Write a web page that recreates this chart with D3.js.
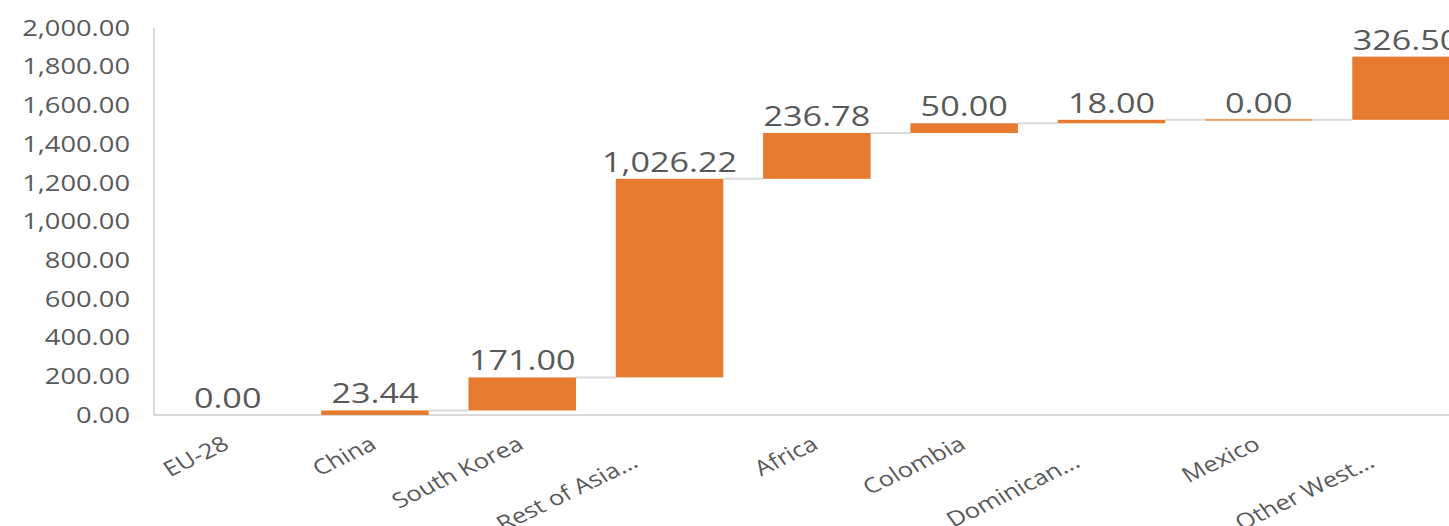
<!DOCTYPE html>
<html>
<head>
<meta charset="utf-8">
<script src="https://cdn.jsdelivr.net/npm/d3@7"></script>
<style>
  html, body { margin: 0; padding: 0; background: #fff; overflow: hidden; }
  svg { display: block; font-family: "Open Sans", sans-serif; }
</style>
</head>
<body>
<svg id="chart" width="1449" height="526"></svg>
<script>
const categories = ["EU-28", "China", "South Korea", "Rest of Asia...", "Africa", "Colombia", "Dominican...", "Mexico", "Other West..."];
const values = [0.00, 23.44, 171.00, 1026.22, 236.78, 50.00, 18.00, 0.00, 326.50];
const yTicks = [0, 200, 400, 600, 800, 1000, 1200, 1400, 1600, 1800, 2000];

const W = 1449, H = 526;
const sx = 1.22;              // horizontal text stretch of the reference
const orange = "#E67A2E", textCol = "#595959", gridCol = "#D9D9D9";

const svg = d3.select("#chart");

// cumulative waterfall
let run = 0;
const data = categories.map((c, i) => {
  const start = run;
  run += values[i];
  return { cat: c, value: values[i], start: start, end: run };
});

const x = d3.scaleBand().domain(categories).range([154, 154 + 9 * 147.3])
  .paddingInner(0.27).paddingOuter(0.135);
const y = d3.scaleLinear().domain([0, 2000]).range([415, 28]);

// y axis line
svg.append("line").attr("x1", 154).attr("x2", 154).attr("y1", y(2000)).attr("y2", y(0))
  .attr("stroke", gridCol).attr("stroke-width", 2);

// y tick labels
const fmt = d3.format(",.2f");
svg.append("g").selectAll("text").data(yTicks).join("text")
  .attr("transform", d => `translate(130,${y(d)}) scale(1.27,1)`)
  .attr("text-anchor", "end").attr("dy", "0.36em")
  .attr("fill", textCol).attr("font-size", 21.5)
  .text(d => fmt(d));

// connectors
svg.append("g").selectAll("line").data(data.slice(0, -1)).join("line")
  .attr("x1", (d) => x(d.cat) + x.bandwidth())
  .attr("x2", (d, i) => x(categories[i + 1]))
  .attr("y1", d => y(d.end)).attr("y2", d => y(d.end))
  .attr("stroke", gridCol).attr("stroke-width", 2);

// x axis line
svg.append("line").attr("x1", 154).attr("x2", W).attr("y1", y(0)).attr("y2", y(0))
  .attr("stroke", gridCol).attr("stroke-width", 2);

// bars
svg.append("g").selectAll("rect").data(data).join("rect")
  .attr("x", d => x(d.cat))
  .attr("width", x.bandwidth())
  .attr("y", d => Math.min(y(d.end), y(d.start)) - (d.value === 0 ? 1 : 0))
  .attr("height", d => Math.max(Math.abs(y(d.start) - y(d.end)), 2))
  .attr("fill", d => d.value === 0 ? "#F0A068" : orange)
  .attr("opacity", (d, i) => (d.value === 0 && i === 0) ? 0 : 1);

// value labels
svg.append("g").selectAll("text").data(data).join("text")
  .attr("transform", d => `translate(${x(d.cat) + x.bandwidth() / 2},${y(d.end) - 7}) scale(${sx},1)`)
  .attr("text-anchor", "middle")
  .attr("fill", textCol).attr("font-size", 28)
  .text(d => fmt(d.value));

// category labels (rotated); truncated labels sit lower-left as in the reference
svg.append("g").selectAll("text").data(categories).join("text")
  .attr("transform", d => {
    const trunc = d.endsWith("...");
    const cx = x(d) + x.bandwidth() / 2 + 3 - (trunc ? 33 : 0);
    const cy = y(0) + 33 + (trunc ? 18 : 0);
    return `translate(${cx},${cy}) scale(${sx},1) rotate(-30.5)`;
  })
  .attr("text-anchor", "end")
  .attr("fill", textCol).attr("font-size", 21)
  .text(d => d);
</script>
</body>
</html>
